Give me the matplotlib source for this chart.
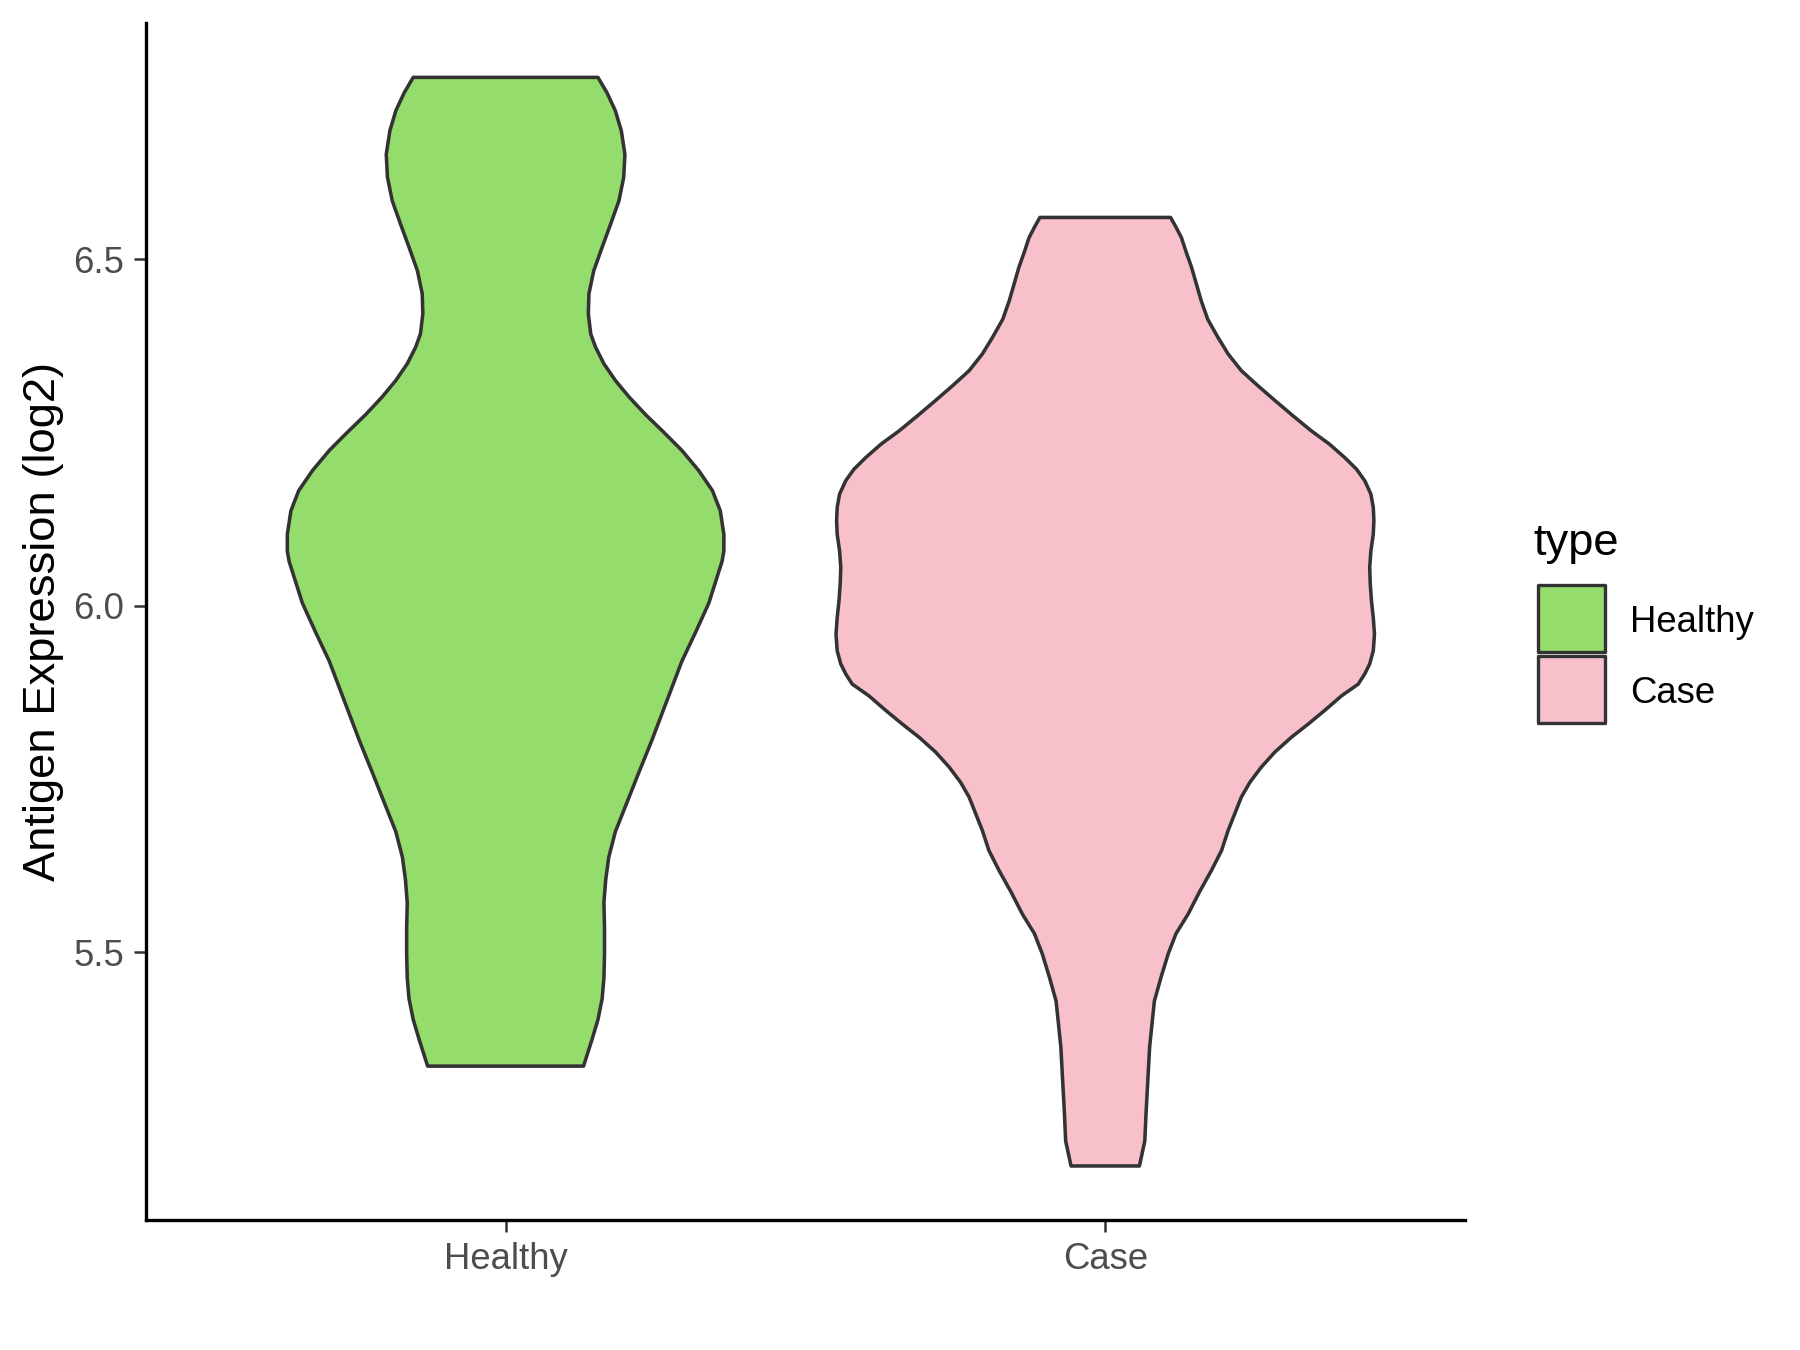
import matplotlib
matplotlib.use("Agg")
import numpy as np
import matplotlib.pyplot as plt
from matplotlib.patches import Rectangle

# violin outlines: expression level (log2) and half width
categories = ["Healthy", "Case"]
colors = ["#94DC6B", "#F7C0CB"]

healthy_y = [6.762, 6.740, 6.714, 6.685, 6.651, 6.618, 6.584, 6.550, 6.517, 6.483,
             6.450, 6.421, 6.392, 6.373, 6.349, 6.325, 6.301, 6.276, 6.250, 6.224,
             6.195, 6.166, 6.137, 6.103, 6.079, 6.064, 6.034, 6.004, 5.962, 5.920,
             5.863, 5.806, 5.759, 5.711, 5.674, 5.637, 5.605, 5.572, 5.535, 5.498,
             5.463, 5.433, 5.403, 5.374, 5.336]
healthy_hw = [0.154, 0.169, 0.183, 0.193, 0.199, 0.197, 0.189, 0.175, 0.161, 0.147,
              0.139, 0.138, 0.142, 0.150, 0.164, 0.183, 0.206, 0.233, 0.264, 0.294,
              0.322, 0.345, 0.358, 0.364, 0.364, 0.361, 0.350, 0.339, 0.317, 0.294,
              0.269, 0.244, 0.222, 0.200, 0.183, 0.172, 0.167, 0.164, 0.165, 0.165,
              0.164, 0.161, 0.154, 0.144, 0.130]

case_y = [6.560, 6.546, 6.531, 6.510, 6.488, 6.464, 6.440, 6.413, 6.387, 6.363,
          6.339, 6.317, 6.296, 6.274, 6.252, 6.233, 6.214, 6.197, 6.180, 6.161,
          6.142, 6.123, 6.103, 6.079, 6.055, 6.031, 6.007, 5.983, 5.959, 5.935,
          5.916, 5.902, 5.887, 5.870, 5.849, 5.829, 5.810, 5.789, 5.767, 5.745,
          5.724, 5.700, 5.676, 5.647, 5.618, 5.587, 5.555, 5.527, 5.498, 5.464,
          5.430, 5.397, 5.363, 5.315, 5.267, 5.228, 5.192]
case_hw = [0.109, 0.118, 0.127, 0.135, 0.144, 0.152, 0.160, 0.171, 0.188, 0.205,
           0.227, 0.255, 0.283, 0.313, 0.344, 0.374, 0.399, 0.419, 0.433, 0.443,
           0.447, 0.448, 0.447, 0.443, 0.441, 0.442, 0.444, 0.447, 0.449, 0.447,
           0.441, 0.433, 0.422, 0.394, 0.366, 0.338, 0.310, 0.283, 0.260, 0.241,
           0.227, 0.216, 0.205, 0.194, 0.177, 0.157, 0.138, 0.118, 0.105, 0.093,
           0.082, 0.078, 0.074, 0.071, 0.068, 0.066, 0.057]

profiles = [(healthy_y, healthy_hw), (case_y, case_hw)]

plt.rcParams['font.family'] = ['Liberation Sans', 'DejaVu Sans']

fig = plt.figure(figsize=(12, 9), dpi=150)
ax = fig.add_axes([0.0810, 0.0960, 0.7329, 0.8870])

for i, (yv, hw) in enumerate(profiles):
    pos = i + 1
    yv = np.array(yv)
    hw = np.array(hw)
    xs = np.concatenate([pos - hw, (pos + hw)[::-1]])
    ys = np.concatenate([yv, yv[::-1]])
    ax.fill(xs, ys, facecolor=colors[i], edgecolor='#333333', linewidth=1.7,
            joinstyle='round')

ax.set_xlim(0.4, 2.6)
ax.set_ylim(5.1135, 6.8405)
ax.set_xticks([1, 2])
ax.set_xticklabels(categories)
ax.set_yticks([5.5, 6.0, 6.5])
ax.set_yticklabels(["5.5", "6.0", "6.5"])

for s in ['top', 'right']:
    ax.spines[s].set_visible(False)
for s in ['left', 'bottom']:
    ax.spines[s].set_linewidth(1.6)
    ax.spines[s].set_color('black')

ax.tick_params(axis='both', colors='#333333', width=1.2, length=5.6, pad=4.8,
               labelsize=17.5, labelcolor='#4D4D4D')
ax.set_ylabel('Antigen Expression (log2)', fontsize=21.8, labelpad=4.3, color='black')

# legend drawn by hand in figure pixels
W, H = 1800.0, 1350.0
fig.text(1533 / W, 1 - 555 / H, 'type', fontsize=21.8, ha='left', va='baseline')
key_tops = [585, 656]
for i, cat in enumerate(categories):
    top = key_tops[i]
    rect = Rectangle((1538 / W, 1 - (top + 67) / H), 67 / W, 67 / H,
                     transform=fig.transFigure, facecolor=colors[i],
                     edgecolor='#333333', linewidth=1.6, joinstyle='round')
    fig.add_artist(rect)
    fig.text(1630 / W, 1 - (top + 37.5) / H, cat, fontsize=17.5,
             ha='left', va='center')

fig.savefig('out.png', dpi=150)
